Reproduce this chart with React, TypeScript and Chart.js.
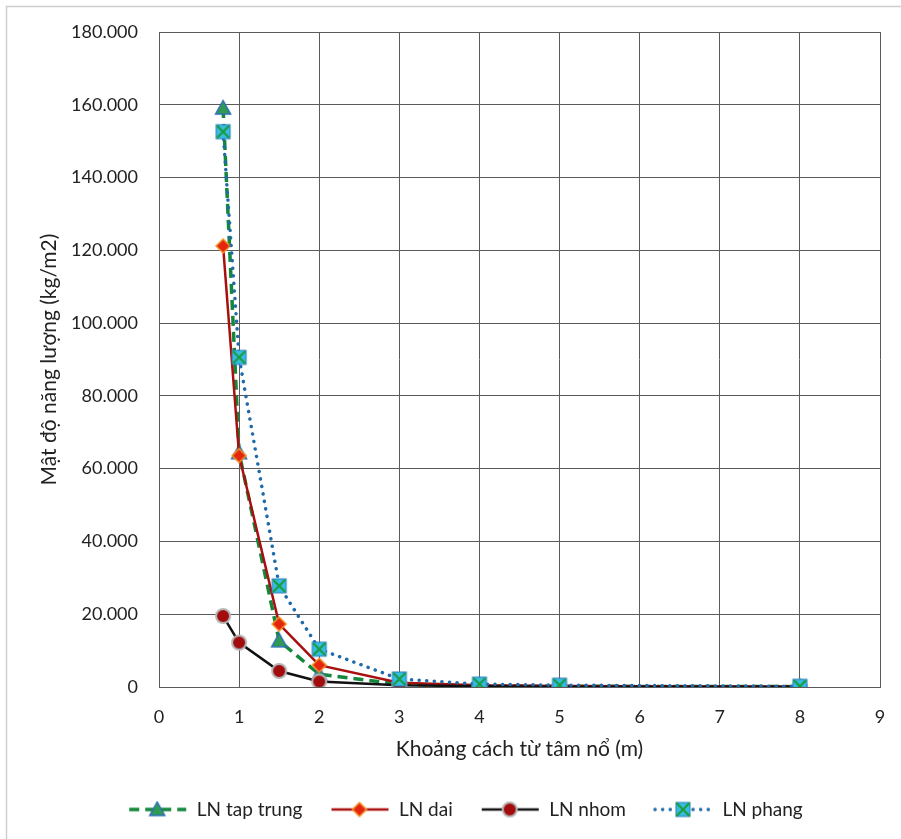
import React, { useEffect, useRef } from "react";
import { Chart, registerables } from "chart.js";

Chart.register(...registerables);

// Distance from the blast centre (m)
const distances = [0.8, 1, 1.5, 2, 3, 4, 5, 8];

// Energy density per charge type (kg/m2)
const lnTapTrung = [159100, 64400, 12700, 3500, 800, 300, 200, 100];
const lnDai = [121200, 63600, 17300, 6000, 1200, 500, 300, 100];
const lnNhom = [19500, 12200, 4400, 1500, 500, 200, 100, 50];
const lnPhang = [152600, 90600, 27800, 10400, 2200, 800, 500, 200];

const seriesNames = ["LN tap trung", "LN dai", "LN nhom", "LN phang"];

const yTitle = "Mật độ năng lượng (kg/m2)";
const xTitle = "Khoảng cách từ tâm nổ (m)";

const FONT = "Lato, 'Liberation Sans', sans-serif";

// Thousands grouped with dots: 180000 -> "180.000"
const groupThousands = (v: number) =>
  String(Math.round(v)).replace(/\B(?=(\d{3})+(?!\d))/g, ".");

type MarkerKind = "triangle" | "diamond" | "circle" | "boxX";

function drawMarker(ctx: CanvasRenderingContext2D, kind: MarkerKind, cx: number, cy: number) {
  ctx.save();
  if (kind === "triangle") {
    ctx.beginPath();
    ctx.moveTo(cx, cy - 7.5);
    ctx.lineTo(cx + 7.5, cy + 6);
    ctx.lineTo(cx - 7.5, cy + 6);
    ctx.closePath();
    ctx.fillStyle = "#2f9a52";
    ctx.fill();
    ctx.lineWidth = 1.5;
    ctx.strokeStyle = "#2f6db5";
    ctx.stroke();
  } else if (kind === "diamond") {
    ctx.beginPath();
    ctx.moveTo(cx, cy - 7);
    ctx.lineTo(cx + 7, cy);
    ctx.lineTo(cx, cy + 7);
    ctx.lineTo(cx - 7, cy);
    ctx.closePath();
    ctx.fillStyle = "#e4260e";
    ctx.fill();
    ctx.lineWidth = 1.5;
    ctx.strokeStyle = "#f39328";
    ctx.stroke();
  } else if (kind === "circle") {
    ctx.beginPath();
    ctx.arc(cx, cy, 7, 0, Math.PI * 2);
    ctx.fillStyle = "#a30c0c";
    ctx.fill();
    ctx.lineWidth = 2;
    ctx.strokeStyle = "#b5b5b5";
    ctx.stroke();
  } else {
    ctx.fillStyle = "#35bde3";
    ctx.fillRect(cx - 7, cy - 7, 14, 14);
    ctx.lineWidth = 1;
    ctx.strokeStyle = "#2b7fc0";
    ctx.strokeRect(cx - 7, cy - 7, 14, 14);
    ctx.beginPath();
    ctx.moveTo(cx - 6, cy - 6);
    ctx.lineTo(cx + 6, cy + 6);
    ctx.moveTo(cx + 6, cy - 6);
    ctx.lineTo(cx - 6, cy + 6);
    ctx.lineWidth = 2.2;
    ctx.strokeStyle = "#1c9c3c";
    ctx.stroke();
  }
  ctx.restore();
}

function markerImage(kind: MarkerKind): HTMLCanvasElement {
  const c = document.createElement("canvas");
  c.width = 20;
  c.height = 20;
  const ctx = c.getContext("2d")!;
  drawMarker(ctx, kind, 10, 10);
  return c;
}

function legendImage(kind: MarkerKind, color: string, width: number, dash: number[], cap: CanvasLineCap): HTMLCanvasElement {
  const c = document.createElement("canvas");
  c.width = 60;
  c.height = 18;
  const ctx = c.getContext("2d")!;
  ctx.strokeStyle = color;
  ctx.lineWidth = width;
  ctx.lineCap = cap;
  ctx.setLineDash(dash);
  ctx.beginPath();
  ctx.moveTo(2, 9);
  ctx.lineTo(59, 9);
  ctx.stroke();
  ctx.setLineDash([]);
  drawMarker(ctx, kind, 30, 9);
  return c;
}

const styles = [
  { kind: "triangle" as MarkerKind, color: "#13873a", width: 3.5, dash: [10, 6], cap: "butt" as CanvasLineCap },
  { kind: "diamond" as MarkerKind, color: "#a8100f", width: 2.5, dash: [] as number[], cap: "butt" as CanvasLineCap },
  { kind: "circle" as MarkerKind, color: "#111111", width: 2.5, dash: [] as number[], cap: "butt" as CanvasLineCap },
  { kind: "boxX" as MarkerKind, color: "#1f6aa8", width: 3.5, dash: [0.1, 7.5], cap: "round" as CanvasLineCap },
];

const frame = {
  id: "outerFrame",
  beforeDraw(chart: any) {
    const ctx = chart.ctx;
    ctx.save();
    ctx.fillStyle = "#ffffff";
    ctx.fillRect(0, 0, chart.width, chart.height);
    ctx.strokeStyle = "#cfcfcf";
    ctx.lineWidth = 1.5;
    ctx.strokeRect(6.5, 6.5, chart.width + 20, chart.height + 20);
    ctx.restore();
  },
  afterLayout(chart: any) {
    const lg = chart.legend;
    if (lg) {
      lg.left += 12;
      lg.right += 12;
      lg.top -= 10;
      lg.bottom -= 10;
    }
  },
};

export default function App() {
  const ref = useRef<HTMLCanvasElement>(null);

  useEffect(() => {
    if (!ref.current) return;
    const allValues = [lnTapTrung, lnDai, lnNhom, lnPhang];
    const datasets = allValues
      .map((vals, i) => ({
        label: seriesNames[i],
        data: distances.map((d, j) => ({ x: d, y: vals[j] })),
        borderColor: styles[i].color,
        borderWidth: styles[i].width,
        borderDash: styles[i].dash,
        borderCapStyle: styles[i].cap,
        pointStyle: markerImage(styles[i].kind),
        legendImg: legendImage(styles[i].kind, styles[i].color, styles[i].width, styles[i].dash, styles[i].cap),
        tension: 0,
        fill: false,
      }))
      .reverse();

    const chart = new Chart(ref.current, {
      type: "line",
      data: { datasets: datasets as any },
      plugins: [frame],
      options: {
        animation: false,
        responsive: false,
        layout: { padding: { left: 26, right: 21, top: 32, bottom: 0 } },
        plugins: {
          tooltip: { enabled: false },
          legend: {
            position: "bottom",
            reverse: true,
            labels: {
              usePointStyle: true,
              pointStyleWidth: 60,
              padding: 27,
              color: "#222",
              font: { family: FONT, size: 19 },
              generateLabels(ch: any) {
                return ch.data.datasets.map((ds: any, i: number) => ({
                  text: ds.label,
                  pointStyle: ds.legendImg,
                  fillStyle: "transparent",
                  strokeStyle: "transparent",
                  lineWidth: 0,
                  fontColor: "#222",
                  hidden: false,
                  datasetIndex: i,
                }));
              },
            },
          },
        },
        scales: {
          x: {
            type: "linear",
            min: 0,
            max: 9,
            afterFit(scale: any) {
              scale.height = 96;
              scale.paddingLeft = 0;
              scale.paddingRight = 0;
            },
            ticks: { stepSize: 1, padding: 19, color: "#222", font: { family: FONT, size: 18 } },
            grid: { color: "#5a5a5a", lineWidth: 1, drawTicks: false },
            border: { color: "#5a5a5a", width: 1 },
            title: {
              display: true,
              text: xTitle,
              color: "#222",
              font: { family: FONT, size: 21 },
              padding: { top: 0, bottom: 21 },
            },
          },
          y: {
            type: "linear",
            min: 0,
            max: 180000,
            afterFit(scale: any) {
              scale.width = 159 - 26;
            },
            ticks: {
              stepSize: 20000,
              padding: 21,
              color: "#222",
              font: { family: FONT, size: 18 },
              callback: (v: any) => groupThousands(Number(v)),
            },
            grid: { color: "#5a5a5a", lineWidth: 1, drawTicks: false },
            border: { color: "#5a5a5a", width: 1 },
            title: {
              display: true,
              text: yTitle,
              color: "#222",
              font: { family: FONT, size: 21 },
              padding: { top: 11, bottom: 0 },
            },
          },
        },
        elements: {
          point: { radius: 8, hoverRadius: 8 },
          line: { tension: 0 },
        },
      },
    });
    return () => chart.destroy();
  }, []);

  return (
    <div style={{ position: "absolute", left: 0, top: 0, width: 901, height: 839 }}>
      <canvas ref={ref} width={901} height={839} style={{ display: "block" }} />
    </div>
  );
}
